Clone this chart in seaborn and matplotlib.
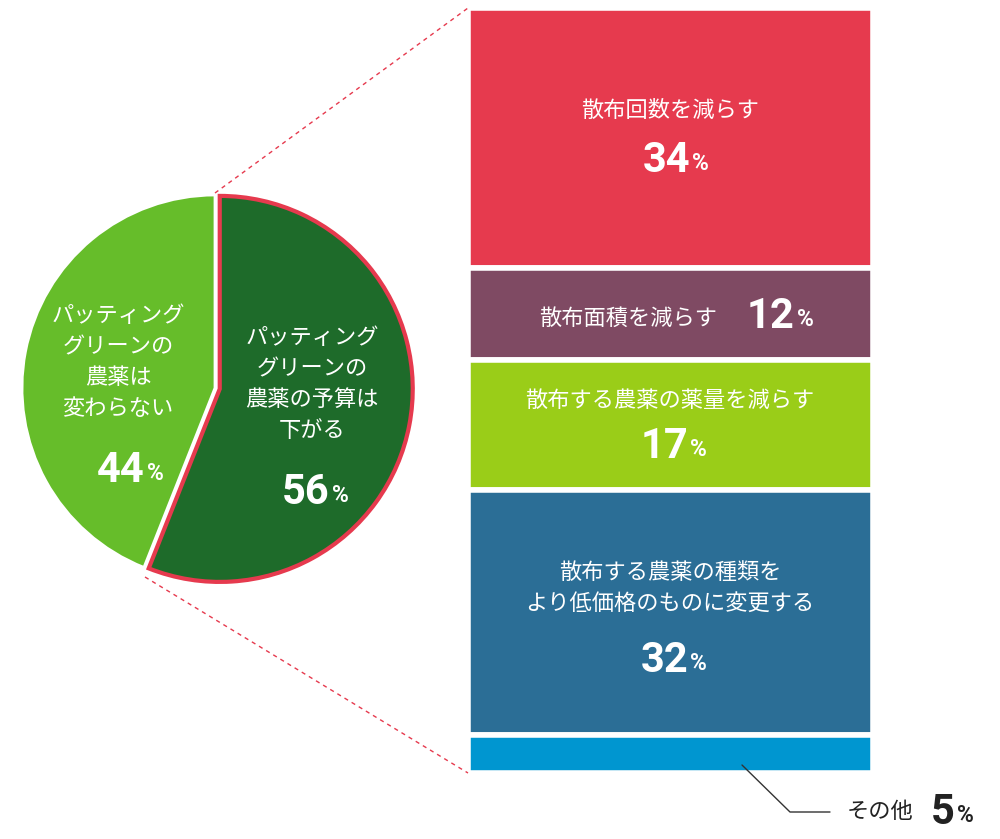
import matplotlib
matplotlib.use("Agg")
import matplotlib.pyplot as plt
import seaborn as sns

sns.set_theme(style="white")
plt.rcParams["font.family"] = "Noto Sans CJK JP"

pie_labels = ["パッティング\nグリーンの\n農薬の予算は\n下がる", "パッティング\nグリーンの\n農薬は\n変わらない"]
pie_values = [56, 44]
pie_colors = ["#1E6B2A", "#66BD2A"]

bar_labels = ["散布回数を減らす", "散布面積を減らす", "散布する農薬の薬量を減らす",
              "散布する農薬の種類を\nより低価格のものに変更する", "その他"]
bar_values = [34, 12, 17, 32, 5]
bar_colors = ["#E63A4E", "#7F4A63", "#9ACD18", "#2B6E96", "#0096D0"]

W, H = 1000, 839
fig = plt.figure(figsize=(W/100, H/100), dpi=100)

# pie
pa = fig.add_axes([22/W, 1-581/H, 386/W, 386/H])
wedges, _ = pa.pie(pie_values, colors=pie_colors, startangle=90, counterclock=False,
                   explode=[0.025, 0], wedgeprops=dict(linewidth=0))
wedges[0].set_edgecolor("#E63A4E"); wedges[0].set_linewidth(3)
wedges[1].set_edgecolor("white"); wedges[1].set_linewidth(2)
pa.set_xlim(-1.0, 1.0); pa.set_ylim(-1.0, 1.0)
pa.set_aspect("equal"); pa.axis("off")

# bar
ba = fig.add_axes([468/W, 1-773/H, 405/W, 765/H])
bottom = 0
for v, c in zip(bar_values, bar_colors):
    ba.bar(0, v, bottom=bottom, width=1, color=c, edgecolor="white", linewidth=4)
    bottom += v
ba.set_xlim(-0.5, 0.5); ba.set_ylim(sum(bar_values), 0); ba.axis("off")

# overlay in pixel coords (on top)
ov = fig.add_axes([0, 0, 1, 1], zorder=10)
ov.set_xlim(0, W); ov.set_ylim(H, 0); ov.axis("off"); ov.patch.set_visible(False)

ov.plot([215, 468], [193, 8], ls=(0, (3, 3)), color="#E63A4E", lw=1)
ov.plot([145, 468], [577, 773], ls=(0, (3, 3)), color="#E63A4E", lw=1)

def pct(x, y, num, size=30, color="white"):
    ov.text(x, y, num, ha="right", va="center", fontsize=size, fontweight="bold", color=color, family="Roboto")
    ov.text(x+2, y+4, "%", ha="left", va="center", fontsize=size*0.55, fontweight="bold", color=color, family="Roboto")

tk = dict(ha="center", va="center", fontsize=16, color="white", linespacing=1.45)
ov.text(118, 362, pie_labels[1], **tk); pct(145, 470, str(pie_values[1]))
ov.text(312, 384, pie_labels[0], **tk); pct(330, 492, str(pie_values[0]))

ov.text(670, 110, bar_labels[0], **tk); pct(690, 160, str(bar_values[0]))
ov.text(628, 318, bar_labels[1], **tk); pct(795, 316, str(bar_values[1]))
ov.text(670, 400, bar_labels[2], **tk); pct(688, 446, str(bar_values[2]))
ov.text(670, 588, bar_labels[3], **tk); pct(688, 660, str(bar_values[3]))

ov.plot([742, 790, 830], [765, 812, 812], color="#333333", lw=1)
ov.text(880, 812, bar_labels[4], ha="center", va="center", fontsize=16, color="#222222")
pct(955, 812, str(bar_values[4]), color="#222222")

fig.savefig("out.png", dpi=100, facecolor="white")
